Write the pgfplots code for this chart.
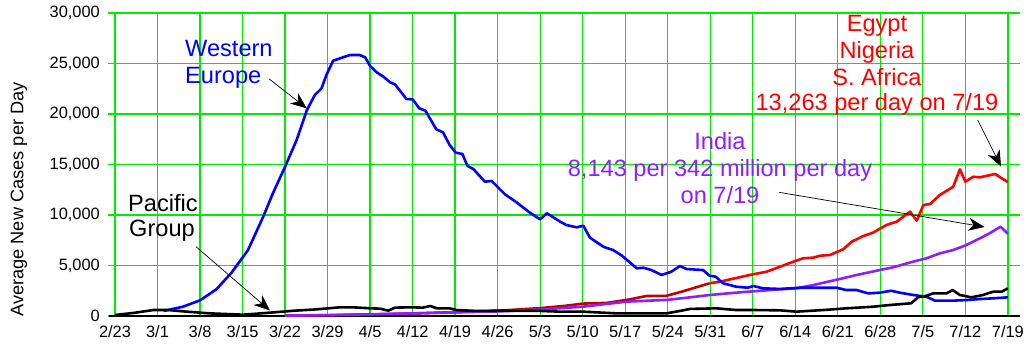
\documentclass[border=0pt]{standalone}
\usepackage{pgfplots}
\pgfplotsset{compat=1.18}
\usepackage{fontspec}
\setmainfont{Liberation Sans}
\usetikzlibrary{arrows.meta}
\definecolor{gridgreen}{RGB}{0,235,0}
\definecolor{wblue}{RGB}{0,0,255}
\definecolor{ered}{RGB}{255,0,0}
\definecolor{dred}{RGB}{195,0,0}
\definecolor{ipurple}{RGB}{140,30,255}
\newcommand{\ann}{\fontsize{23.6bp}{27bp}\selectfont}
\begin{document}
\begin{tikzpicture}
\useasboundingbox (-115bp,-33bp) rectangle (912bp,316bp);
\begin{axis}[
  at={(0,0)}, anchor=south west,
  scale only axis, width=905bp, height=303bp,
  xmin=0, xmax=149, ymin=0, ymax=30000,
  xtick={0,7,...,147},
  xticklabels={2/23,3/1,3/8,3/15,3/22,3/29,4/5,4/12,4/19,4/26,5/3,5/10,5/17,5/24,5/31,6/7,6/14,6/21,6/28,7/5,7/12,7/19},
  ytick={0,5000,...,30000},
  scaled y ticks=false,
  /pgf/number format/1000 sep={,},
  /pgf/number format/assume math mode=true,
  grid=major,
  major grid style={draw=gridgreen, line width=1.3bp},
  axis line style={draw=none},
  tick align=outside, major tick length=7bp,
  xtick style={draw=none},
  ytick style={draw=gridgreen, line width=1.3bp},
  ytick pos=left, xtick pos=bottom,
  ticklabel style={font=\fontsize{16.4bp}{19bp}\selectfont},
  yticklabel style={inner sep=0pt, xshift=-8bp},
  xticklabel style={inner sep=0pt, yshift=-2bp},
  ylabel={Average New Cases per Day},
  ylabel style={font=\fontsize{18.2bp}{21bp}\selectfont, at={(rel axis cs:0,0.3845)}, anchor=center, yshift=96bp},
  clip=false,
]
\draw[black, line width=1.5bp] (axis cs:0,0) ++(-6bp,0) -- (axis cs:149,0);

% Egypt, Nigeria, S. Africa
\addplot[dred, line width=2.6bp, line join=round] coordinates {
(28,30) (35,80) (42,150) (49,250) (56,380) (63,520) (70,780) (74,1000) (77.1,1230)
(81,1300) (84.8,1650) (87.5,1980) (90.8,2000) (93.3,2410) (97.9,3240)};
\addplot[ered, line width=2.6bp, line join=round] coordinates {
(97.9,3240) (99.6,3400) (104.5,4060) (107.3,4390) (109.5,4880) (111.7,5380) (113.3,5710)
(115,5780) (116.1,5970) (117.7,6040) (119.9,6600) (121.3,7360) (123.2,7920) (124.8,8250)
(127,9010) (128.7,9340) (130.9,10330) (132,9440) (133.1,10990) (134.2,11090) (135.8,11980)
(138,12800) (139.1,14520) (140,13300) (141.3,13790) (142.4,13730) (144.9,14060) (146,13630)
(147,13263)};

% India
\addplot[ipurple, line width=2.6bp, line join=round] coordinates {
(28,40) (35,90) (42,170) (49,260) (56,360) (63,450) (70,640) (77,920) (84.2,1420)
(91,1600) (94.7,1850) (97.9,2080) (103,2350) (109.5,2640) (112.2,2740) (115,3070)
(119.1,3630) (122.1,4060) (125.9,4550) (128.1,4820) (131.4,5380) (133.6,5710) (135.8,6200)
(138,6530) (140.2,7030) (142.4,7690) (144,8190) (145.8,8840) (147,8143)};

% Western Europe
\addplot[wblue, line width=2.6bp, line join=round] coordinates {
(8,500) (11.2,920) (14,1550) (16.7,2650) (19.2,4300) (21.9,6530) (24.4,9830) (26,12150)
(28,14780) (29.9,17420) (31.6,20400) (32.9,21880) (34,22540) (34.8,23860) (35.9,25270)
(37,25500) (38.7,25840) (40.3,25840) (41.2,25600) (42,24750) (43.1,24120) (44.2,23690)
(45.3,23130) (46.1,22930) (48,21480) (49,21450) (50.1,20560) (51.1,20330) (52.9,18480)
(54,18180) (55.1,16930) (56.1,16170) (57.2,16040) (58,14880) (59,14550) (60.9,13300)
(62,13370) (64.2,12050) (66.1,11260) (68.3,10230) (70,9570) (71.1,10170) (73.3,9340)
(74.3,9010) (76,8780) (77.1,8940) (78.2,7750) (80.4,6860) (82,6530) (83.4,6000)
(85.9,4720) (87,4780) (88.3,4550) (90,4060) (91.6,4390) (93,4950) (94.1,4650)
(96.8,4550) (97.9,3990) (98.9,3890) (100.1,3240) (102.3,2900) (104.2,2800) (105.1,2970)
(106.7,2740) (109.5,2680) (112.8,2800) (115.5,2800) (118.8,2800) (120.4,2570) (122.1,2570)
(124,2240) (125.9,2310) (127.8,2500) (129.2,2310) (131.4,2080) (133.6,1910) (135,1520)
(138,1520) (140.2,1580) (142.4,1680) (144.6,1750) (147,1850)};

% Pacific Group
\addplot[black, line width=2.6bp, line join=round] coordinates {
(0,100) (3,300) (6.3,590) (8.8,590) (11.8,430) (15.6,260) (21.1,130) (25.5,330) (29.4,520)
(33,650) (37,860) (39.2,860) (42,760) (43.6,730) (45,530) (46.1,830) (48.6,860) (50.7,830)
(51.9,990) (53,760) (55.1,760) (56.2,590) (59.5,500) (62.8,520) (70,500) (73.3,430)
(77,430) (82.6,260) (90.8,260) (93,500) (94.7,700) (99,760) (102.3,590) (105.6,590)
(109.5,560) (112.2,430) (116.6,590) (120.4,760) (124.8,920) (127.6,1090) (131.1,1260)
(132.2,1850) (133.6,2010) (134.7,2240) (136.9,2240) (137.9,2570) (139.1,2080) (141,1850)
(142.9,2080) (144.6,2410) (146,2410) (147,2740)};

% annotations
\node[wblue, anchor=base west, font=\ann, inner sep=0pt] at (axis cs:11.52,25674) {Western};
\node[wblue, anchor=base west, font=\ann, inner sep=0pt] at (axis cs:11.52,23040) {Europe};
\draw[-{Stealth[length=16bp,width=13bp,inset=5bp]}, line width=0.7bp] (axis cs:25.40,23465) -- (axis cs:31.56,20565);

\node[black, anchor=base west, font=\ann, inner sep=0pt] at (axis cs:2.14,10396) {Pacific};
\node[black, anchor=base west, font=\ann, inner sep=0pt] at (axis cs:2.3,7851) {Group};
\draw[-{Stealth[length=16bp,width=13bp,inset=5bp]}, line width=0.7bp] (axis cs:13.34,6861) -- (axis cs:25.52,545);

\node[ered, anchor=base, font=\ann, inner sep=0pt] at (axis cs:125.45,28149) {Egypt};
\node[ered, anchor=base, font=\ann, inner sep=0pt] at (axis cs:125.45,25515) {Nigeria};
\node[ered, anchor=base, font=\ann, inner sep=0pt] at (axis cs:125.45,22871) {S. Africa};
\node[ered, anchor=base, font=\ann, inner sep=0pt] at (axis cs:125.45,20396) {13,263 per day on 7/19};
\draw[-{Stealth[length=16bp,width=13bp,inset=5bp]}, line width=0.7bp] (axis cs:142.03,19406) -- (axis cs:145.87,14802);

\node[ipurple, anchor=base, font=\ann, inner sep=0pt] at (axis cs:99.61,16436) {India};
\node[ipurple, anchor=base, font=\ann, inner sep=0pt] at (axis cs:99.61,13861) {8,143 per 342 million per day};
\node[ipurple, anchor=base, font=\ann, inner sep=0pt] at (axis cs:99.61,11158) {on 7/19};
\draw[-{Stealth[length=16bp,width=13bp,inset=5bp]}, line width=0.7bp] (axis cs:109.32,12248) -- (axis cs:143.15,8812);
\end{axis}
\end{tikzpicture}
\end{document}
